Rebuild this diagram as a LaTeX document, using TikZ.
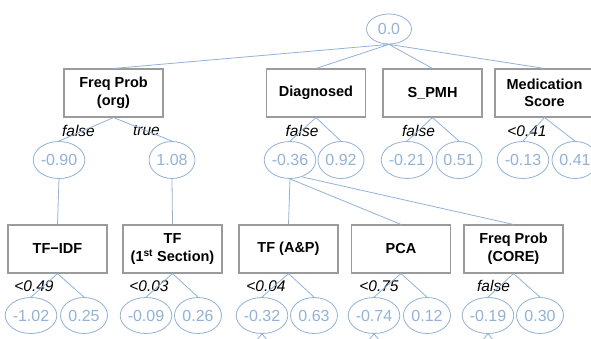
\documentclass[tikz,border=0pt]{standalone}
\usepackage{fontspec}
\setmainfont{Liberation Sans}
\usetikzlibrary{shapes.geometric}
\definecolor{nodeblue}{RGB}{145,178,218}
\definecolor{boxgray}{RGB}{155,155,155}
\tikzset{
  featbox/.style={draw=boxgray, line width=1.1pt, fill=white, minimum width=99pt, minimum height=48pt, inner sep=0pt, align=center, font=\fontsize{14.5pt}{17.5pt}\selectfont\bfseries},
  valnode/.style={ellipse, draw=nodeblue, line width=0.8pt, fill=white, text=nodeblue, minimum width=47pt, minimum height=36pt, inner sep=0pt, font=\fontsize{16pt}{18pt}\selectfont},
  rootnode/.style={valnode, minimum width=45pt, minimum height=30pt},
  cond/.style={font=\fontsize{15.5pt}{18pt}\selectfont\itshape, inner sep=0pt},
  conn/.style={draw=nodeblue, line width=0.8pt}
}
\begin{document}
\begin{tikzpicture}[x=1pt, y=-1pt]
\path[use as bounding box] (0,0) rectangle (591,339);
\clip (0,0) rectangle (591,339);
% root
\node[rootnode] (root) at (389,29) {0.0};
% level 1 boxes
\node[featbox] (org) at (113.5,93) {Freq Prob\\(org)};
\node[featbox] (diag) at (316,93) {Diagnosed};
\node[featbox] (spmh) at (432.5,93) {S\_PMH};
\node[featbox] (med) at (544.5,93) {Medication\\Score};
% level 1 values
\node[valnode, minimum width=46pt, minimum height=37pt] (a1) at (59,160) {-0.90};
\node[valnode, minimum width=46pt, minimum height=37pt] (a2) at (172,160) {1.08};
\node[valnode, minimum width=46pt, minimum height=37pt] (a3) at (290,160) {-0.36};
\node[valnode, minimum width=46pt, minimum height=37pt] (a4) at (341,160) {0.92};
\node[valnode, minimum width=46pt, minimum height=37pt] (a5) at (407,160) {-0.21};
\node[valnode, minimum width=46pt, minimum height=37pt] (a6) at (459,160) {0.51};
\node[valnode, minimum width=46pt, minimum height=37pt] (a7) at (523,160) {-0.13};
\node[valnode, minimum width=46pt, minimum height=37pt] (a8) at (575,160) {0.41};
% level 1 conditions
\node[cond] (c1) at (78.5,131) {false};
\node[cond] (c2) at (146.5,131) {true};
\node[cond] (c3) at (302,131) {false};
\node[cond] (c4) at (418.5,131) {false};
\node[cond] (c5) at (527,131) {<0.41};
% level 2 boxes
\node[featbox] (tfidf) at (57.5,249) {TF−IDF};
\node[featbox] (tf1) at (172.5,249) {TF\\(1\textsuperscript{st} Section)};
\node[featbox] (tfap) at (288.5,249) {TF (A\&P)};
\node[featbox] (pca) at (401,249) {PCA};
\node[featbox] (core) at (513.5,249) {Freq Prob\\(CORE)};
% level 2 conditions
\node[cond] (d1) at (34,286) {<0.49};
\node[cond] (d2) at (149,286) {<0.03};
\node[cond] (d3) at (266,286) {<0.04};
\node[cond] (d4) at (379,286) {<0.75};
\node[cond] (d5) at (493.5,286) {false};
% level 2 values
\node[valnode] (b1) at (31,315.5) {-1.02};
\node[valnode] (b2) at (84,315.5) {0.25};
\node[valnode] (b3) at (146,315.5) {-0.09};
\node[valnode] (b4) at (198,315.5) {0.26};
\node[valnode] (b5) at (262,315.5) {-0.32};
\node[valnode] (b6) at (314,315.5) {0.63};
\node[valnode] (b7) at (374,315.5) {-0.74};
\node[valnode] (b8) at (427,315.5) {0.12};
\node[valnode] (b9) at (488,315.5) {-0.19};
\node[valnode] (b10) at (540,315.5) {0.30};
% clipped continuation points
\coordinate (e1) at (250,348);
\coordinate (e2) at (274,348);
\coordinate (e3) at (362,348);
\coordinate (e4) at (386,348);
\coordinate (e5) at (476,348);
\coordinate (e6) at (500,348);
% connectors
\path[conn] (root.south) -- (org.north)
  (root.south) -- (diag.north)
  (root.south) -- (spmh.north)
  (root.south) -- (med.north);
\path[conn] (org.south) -- (a1.north) (org.south) -- (a2.north)
  (diag.south) -- (a3.north) (diag.south) -- (a4.north)
  (spmh.south) -- (a5.north) (spmh.south) -- (a6.north)
  (med.south) -- (a7.north) (med.south) -- (a8.north);
\path[conn] (a1.south) -- (tfidf.north)
  (a2.south) -- (tf1.north)
  (a3.south) -- (tfap.north)
  (a3.south) -- (pca.north)
  (a3.-55) -- (core.north);
\path[conn] (tfidf.south) -- (b1.north) (tfidf.south) -- (b2.north)
  (tf1.south) -- (b3.north) (tf1.south) -- (b4.north)
  (tfap.south) -- (b5.north) (tfap.south) -- (b6.north)
  (pca.south) -- (b7.north) (pca.south) -- (b8.north)
  (core.south) -- (b9.north) (core.south) -- (b10.north);
\path[conn] (b5.south) -- (e1) (b5.south) -- (e2)
  (b7.south) -- (e3) (b7.south) -- (e4)
  (b9.south) -- (e5) (b9.south) -- (e6);
\end{tikzpicture}
\end{document}
